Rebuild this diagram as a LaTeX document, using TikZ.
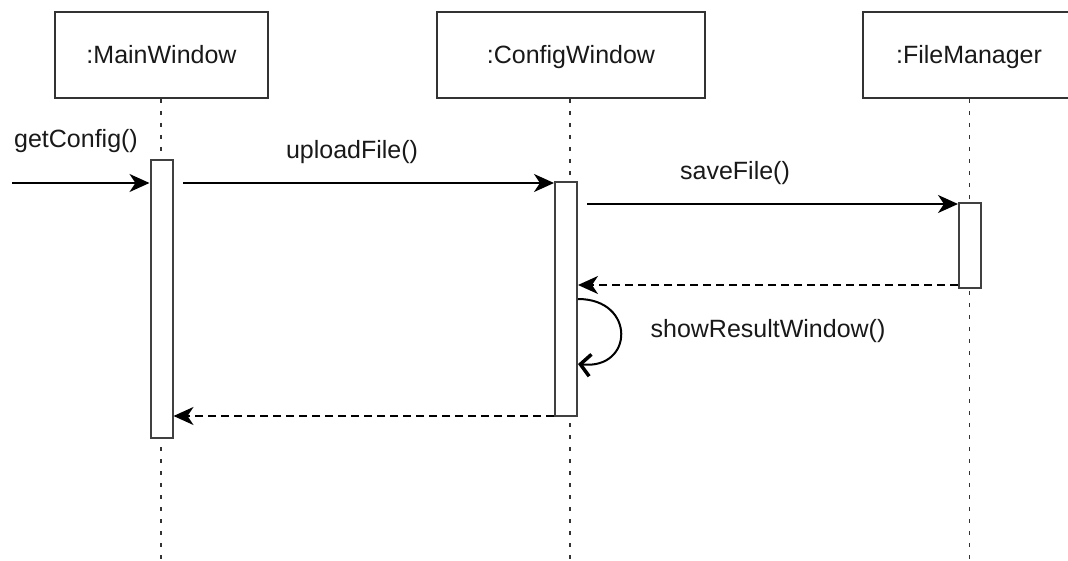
\documentclass[tikz,border=0pt]{standalone}
\usepackage{fontspec}
\setmainfont{Liberation Sans}
\usetikzlibrary{arrows.meta}
\begin{document}
\begin{tikzpicture}[x=1pt,y=-1pt,
  lbl/.style={font=\fontsize{25}{30}\selectfont, inner sep=0pt, anchor=base, text=black!90},
  obj/.style={draw=black!80, line width=2pt, minimum height=86pt, inner sep=0pt,
    font=\fontsize{25}{30}\selectfont, text height=18pt, text depth=0pt, text=black!90},
  actbar/.style={draw=black!75, line width=2pt, fill=white, minimum width=22pt, inner sep=0pt},
  lifeline/.style={draw=black!80, line width=1.8pt, dash pattern=on 4pt off 8pt},
  msg/.style={draw=black, line width=2pt, -{Stealth[length=20pt 0,width=18pt 0,inset=6pt 0]}},
  ret/.style={msg, dash pattern=on 8pt off 5pt},
  self/.style={draw=black, line width=2pt, -{Straight Barb[length=10pt 0,width=22pt 0,line width=3.5pt]}},
]
\useasboundingbox (0,0) rectangle (1068,561);
% objects
\node[obj, minimum width=213pt] (mw) at (161.5,55) {:MainWindow};
\node[obj, minimum width=268pt] (cw) at (571,55) {:ConfigWindow};
\node[obj, minimum width=212pt] (fm) at (969,55) {:FileManager};
% lifelines
\coordinate (mwend) at (161,561);
\coordinate (cwend) at (570,561);
\coordinate (fmend) at (969.5,561);
\draw[lifeline] (mw.south -| mwend) -- (mwend);
\draw[lifeline] (cw.south -| cwend) -- (cwend);
\draw[lifeline] (fm.south -| fmend) -- (fmend);
% activation bars
\node[actbar, minimum height=278pt] (mwbar) at (161.5,299) {};
\node[actbar, minimum height=234pt] (cwbar) at (566,299) {};
\node[actbar, minimum height=85pt] (fmbar) at (970,245.5) {};
% messages
\coordinate (m0s) at (12,183);
\draw[msg] (m0s) -- (mwbar.west |- m0s);
\node[lbl] (l0) at (76,148) {getConfig()};

\coordinate (m1s) at (183,183);
\draw[msg] (m1s) -- (cwbar.west |- m1s);
\node[lbl] (l1) at (352,159) {uploadFile()};

\coordinate (m2s) at (587,204);
\draw[msg] (m2s) -- (fmbar.west |- m2s);
\node[lbl] (l2) at (735,180) {saveFile()};

\coordinate (r2y) at (0,285);
\draw[ret] (fmbar.west |- r2y) -- (cwbar.east |- r2y);

\coordinate (s1) at (0,299);
\coordinate (s2) at (0,364);
\draw[self] (cwbar.east |- s1) .. controls (636,299) and (634,370) .. (cwbar.east |- s2);
\node[lbl] (l3) at (768,337) {showResultWindow()};

\coordinate (r1y) at (0,416);
\draw[ret] (cwbar.west |- r1y) -- (mwbar.east |- r1y);
\end{tikzpicture}
\end{document}
